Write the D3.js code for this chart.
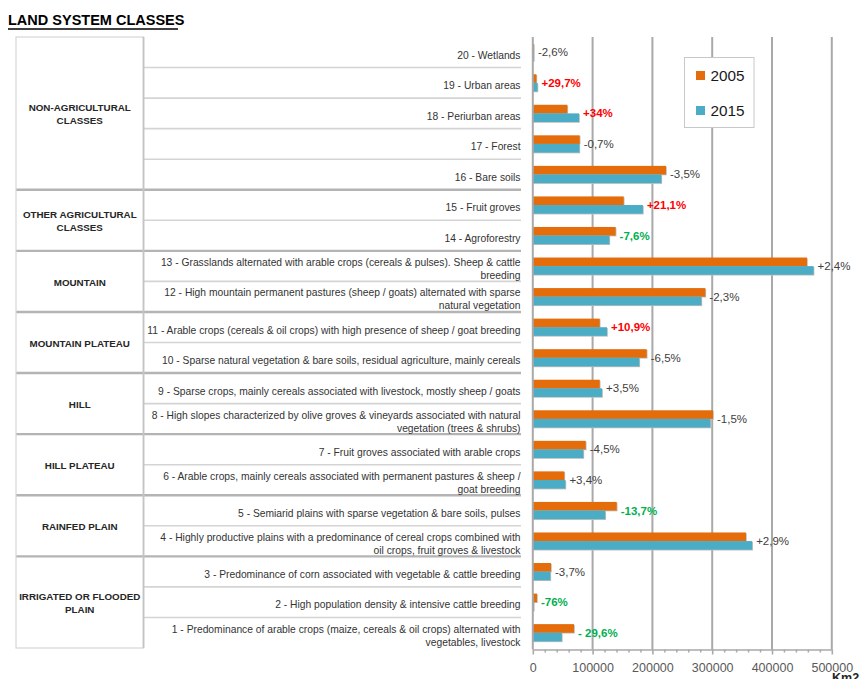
<!DOCTYPE html>
<html>
<head>
<meta charset="utf-8">
<script src="https://cdn.jsdelivr.net/npm/d3@7/dist/d3.min.js"></script>
<style>
  html, body { margin: 0; padding: 0; background: #ffffff; }
  svg { display: block; font-family: "Liberation Sans", Arial, sans-serif; }
</style>
</head>
<body>
<script>
// Land system classes: area in km2, 2005 vs 2015
const years = ["2005", "2015"];
const classIds = [20, 19, 18, 17, 16, 15, 14, 13, 12, 11, 10, 9, 8, 7, 6, 5, 4, 3, 2, 1];
const classLabels = [
  ["20 - Wetlands"],
  ["19 - Urban areas"],
  ["18 - Periurban areas"],
  ["17 - Forest"],
  ["16 - Bare soils"],
  ["15 - Fruit groves"],
  ["14 - Agroforestry"],
  ["13 - Grasslands alternated with arable crops (cereals & pulses). Sheep & cattle", "breeding"],
  ["12 - High mountain permanent pastures (sheep / goats) alternated with sparse", "natural vegetation"],
  ["11 - Arable crops (cereals & oil crops) with high presence of sheep / goat breeding"],
  ["10 - Sparse natural vegetation & bare soils, residual agriculture, mainly cereals"],
  ["9 - Sparse crops, mainly cereals associated with livestock, mostly sheep / goats"],
  ["8 - High slopes characterized by olive groves & vineyards associated with natural", "vegetation (trees & shrubs)"],
  ["7 - Fruit groves associated with arable crops"],
  ["6 - Arable crops, mainly cereals associated with permanent pastures & sheep /", "goat breeding"],
  ["5 - Semiarid plains with sparse vegetation & bare soils, pulses"],
  ["4 - Highly productive plains with a predominance of cereal crops combined with", "oil crops, fruit groves & livestock"],
  ["3 - Predominance of corn associated with vegetable & cattle breeding"],
  ["2 - High population density & intensive cattle breeding"],
  ["1 - Predominance of arable crops (maize, cereals & oil crops) alternated with", "vegetables, livestock"]
];
const area2005 = [1800, 6000, 57700, 78400, 222700, 152000, 138500, 458500, 288500, 111900,
                  190500, 111900, 301300, 88500, 52700, 140300, 356500, 30400, 7000, 68900];
const area2015 = [1750, 7780, 77300, 77850, 214900, 184100, 128000, 469500, 281900, 124100,
                  178100, 115800, 296800, 84500, 54500, 121100, 366800, 29300, 1680, 48500];
const changeLabels = ["-2,6%", "+29,7%", "+34%", "-0,7%", "-3,5%", "+21,1%", "-7,6%", "+2,4%", "-2,3%", "+10,9%",
                      "-6,5%", "+3,5%", "-1,5%", "-4,5%", "+3,4%", "-13,7%", "+2,9%", "-3,7%", "-76%", "- 29,6%"];
// "gain" / "loss" mark the highlighted changes, "none" the plain ones
const changeKinds = ["none", "gain", "gain", "none", "none", "gain", "loss", "none", "none", "gain",
                     "none", "none", "none", "none", "none", "loss", "none", "none", "loss", "loss"];

const groupNames = [
  ["NON-AGRICULTURAL", "CLASSES"],
  ["OTHER AGRICULTURAL", "CLASSES"],
  ["MOUNTAIN"],
  ["MOUNTAIN PLATEAU"],
  ["HILL"],
  ["HILL PLATEAU"],
  ["RAINFED PLAIN"],
  ["IRRIGATED OR FLOODED", "PLAIN"]
];
const groupFirst = [20, 15, 13, 11, 9, 7, 5, 3];
const groupLast  = [16, 14, 12, 10, 8, 6, 4, 1];

const axisTicks = [0, 100000, 200000, 300000, 400000, 500000];
const minorStep = 20000;

const W = 860, H = 679;
const colors = { "2005": "#e46c0a", "2015": "#4bacc6" };
const kindColors = { none: "#404040", gain: "#ff0000", loss: "#00b050" };

const svg = d3.select("body").append("svg").attr("width", W).attr("height", H);

// Layout
const plotTop = 37, plotBottom = 648, axisY = 649.5;
const tableLeft = 16, colSplit = 143.5, tableRight = 521;
const narrow = 0.935; // horizontal squeeze for the description text

const x = d3.scaleLinear().domain([0, 500000]).range([532.8, 831.8]);
const y = d3.scaleBand().domain(classIds).range([plotTop, plotBottom])
  .paddingInner(0.437).paddingOuter(0.2185);
const ySub = d3.scaleBand().domain(years).range([0, y.bandwidth()]);
const step = y.step();
const cellTop = id => y(id) - (step - y.bandwidth()) / 2;
const cellMid = id => y(id) + y.bandwidth() / 2;

const rows = classIds.map((id, i) => ({
  id, label: classLabels[i], v2005: area2005[i], v2015: area2015[i],
  change: changeLabels[i], kind: changeKinds[i]
}));

// Title
svg.append("text")
  .attr("x", 8).attr("y", 25)
  .attr("font-size", 14.5).attr("font-weight", "bold").attr("fill", "#000")
  .text("LAND SYSTEM CLASSES");
svg.append("line")
  .attr("x1", 8).attr("x2", 178).attr("y1", 29).attr("y2", 29)
  .attr("stroke", "#000").attr("stroke-width", 1.6);

// Table
const table = svg.append("g");
// row separators inside each group
const groupStarts = new Set(groupFirst);
table.selectAll("line.row").data(rows.filter(r => !groupStarts.has(r.id)))
  .join("line").attr("class", "row")
  .attr("x1", colSplit).attr("x2", tableRight)
  .attr("y1", d => cellTop(d.id)).attr("y2", d => cellTop(d.id))
  .attr("stroke", "#d4d4d4").attr("stroke-width", 1.6);
// group separators across the full table
table.selectAll("line.grp").data(groupFirst.slice(1))
  .join("line").attr("class", "grp")
  .attr("x1", tableLeft).attr("x2", tableRight)
  .attr("y1", d => cellTop(d)).attr("y2", d => cellTop(d))
  .attr("stroke", "#b4b4b4").attr("stroke-width", 2.4);
// left column box
table.append("rect")
  .attr("x", tableLeft).attr("y", plotTop)
  .attr("width", colSplit - tableLeft).attr("height", plotBottom - plotTop)
  .attr("fill", "none").attr("stroke", "#d6d6d6").attr("stroke-width", 1.2);
table.append("line")
  .attr("x1", colSplit).attr("x2", colSplit).attr("y1", plotTop).attr("y2", plotBottom)
  .attr("stroke", "#c4c4c4").attr("stroke-width", 1.8);

// group names
groupNames.forEach((lines, gi) => {
  const top = cellTop(groupFirst[gi]);
  const bottom = cellTop(groupLast[gi]) + step;
  const mid = (top + bottom) / 2 + 1;
  const lh = 13;
  const t = table.append("text")
    .attr("text-anchor", "middle").attr("font-size", 9.8).attr("font-weight", "bold")
    .attr("fill", "#262626");
  lines.forEach((ln, li) => {
    t.append("tspan").attr("x", (tableLeft + colSplit) / 2)
      .attr("y", mid - (lines.length - 1) * lh / 2 + li * lh + 3.5)
      .text(ln);
  });
});

// class descriptions, one text per line so each can be squeezed
rows.forEach(r => {
  const mid = cellMid(r.id) + 2.5;
  const lh = 13;
  r.label.forEach((ln, li) => {
    const t = table.append("text")
      .attr("text-anchor", "end").attr("font-size", 11).attr("fill", "#333333")
      .attr("x", tableRight - 0.5)
      .attr("y", mid - (r.label.length - 1) * lh / 2 + li * lh + 3.8)
      .text(ln);
    const len = t.node().getComputedTextLength();
    t.attr("textLength", len * narrow).attr("lengthAdjust", "spacingAndGlyphs");
  });
});

// Gridlines
svg.append("g").selectAll("line")
  .data(axisTicks.slice(1))
  .join("line")
  .attr("x1", d => x(d)).attr("x2", d => x(d))
  .attr("y1", plotTop).attr("y2", axisY)
  .attr("stroke", "#a9a9a9").attr("stroke-width", 2);

// Legend (drawn over the gridlines)
const legend = svg.append("g");
legend.append("rect")
  .attr("x", 684.5).attr("y", 57.5).attr("width", 69.5).attr("height", 70)
  .attr("fill", "#fff").attr("stroke", "#c8c8c8").attr("stroke-width", 1);
years.forEach((yr, i) => {
  const cy = 75.5 + i * 35;
  legend.append("rect")
    .attr("x", 696).attr("y", cy - 4.5).attr("width", 9).attr("height", 9)
    .attr("fill", colors[yr]);
  legend.append("text")
    .attr("x", 710.5).attr("y", cy + 5.3)
    .attr("font-size", 15.3).attr("fill", "#1a1a1a")
    .text(yr);
});

// Bars
const barG = svg.append("g");
const series = years.map(yr => ({ yr, key: yr === "2005" ? "v2005" : "v2015" }));
series.forEach(s => {
  const g = barG.append("g");
  // soft shadow
  g.selectAll("rect.sh").data(rows).join("rect").attr("class", "sh")
    .attr("x", x(0)).attr("y", d => y(d.id) + ySub(s.yr) + 0.8)
    .attr("width", d => Math.max(0, x(d[s.key]) - x(0)) + 0.8)
    .attr("height", ySub.bandwidth())
    .attr("fill", "#bdbdbd");
  g.selectAll("rect.bar").data(rows).join("rect").attr("class", "bar")
    .attr("x", x(0)).attr("y", d => y(d.id) + ySub(s.yr))
    .attr("width", d => Math.max(0, x(d[s.key]) - x(0)))
    .attr("height", ySub.bandwidth())
    .attr("fill", colors[s.yr]);
});

// Change labels
svg.append("g").selectAll("text")
  .data(rows)
  .join("text")
  .attr("x", d => x(Math.max(d.v2005, d.v2015)) + 4)
  .attr("y", d => cellMid(d.id) + 4)
  .attr("font-size", 11.5)
  .attr("font-weight", d => d.kind === "none" ? "normal" : "bold")
  .attr("fill", d => kindColors[d.kind])
  .text(d => d.change);

// Value axis line (x = 0)
svg.append("line")
  .attr("x1", x(0)).attr("x2", x(0)).attr("y1", plotTop).attr("y2", axisY)
  .attr("stroke", "#a9a9a9").attr("stroke-width", 2);

// Bottom axis
const minorTicks = d3.range(0, 500000 + 1, minorStep).filter(v => !axisTicks.includes(v));
svg.append("g").attr("transform", `translate(0,${axisY})`)
  .call(d3.axisBottom(x).tickValues(minorTicks).tickSize(3).tickFormat(""))
  .call(g => g.select(".domain").remove())
  .call(g => g.selectAll("line").attr("stroke", "#a9a9a9").attr("stroke-width", 1.5));
const xAxis = svg.append("g").attr("transform", `translate(0,${axisY})`)
  .call(d3.axisBottom(x).tickValues(axisTicks).tickSize(5).tickPadding(9).tickFormat(d3.format("d")).tickSizeOuter(0));
xAxis.select(".domain").attr("stroke", "#a9a9a9").attr("stroke-width", 1.6);
xAxis.selectAll(".tick line").attr("stroke", "#a9a9a9").attr("stroke-width", 1.6);
xAxis.selectAll(".tick text")
  .attr("font-family", "'Liberation Sans', Arial, sans-serif")
  .attr("font-size", 12.5).attr("fill", "#595959");

// Unit label
svg.append("text")
  .attr("x", 832).attr("y", 682)
  .attr("font-size", 12.5).attr("font-weight", "bold").attr("fill", "#262626")
  .text("Km2");
</script>
</body>
</html>
